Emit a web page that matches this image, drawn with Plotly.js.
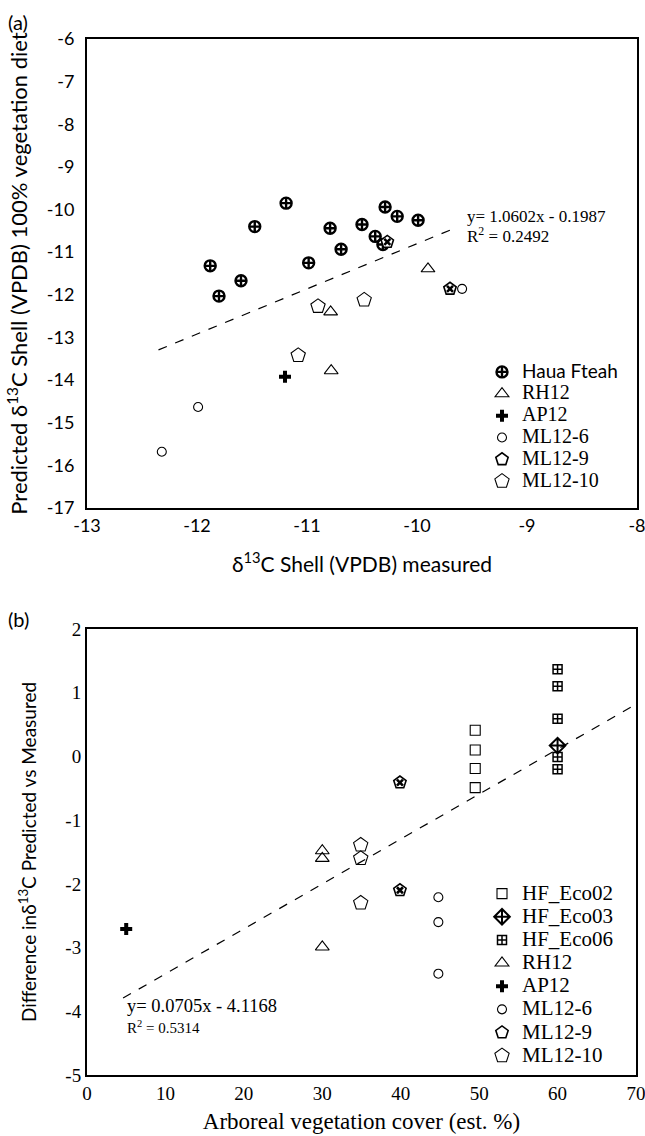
<!DOCTYPE html>
<html>
<head>
<meta charset="utf-8">
<script src="https://cdn.plot.ly/plotly-3.0.1.min.js"></script>
<style>html,body{margin:0;padding:0;background:#fff}#chart{width:645px;height:1136px}</style>
</head>
<body>
<div id="chart"></div>
<script>
// ---------- Panel (a): predicted vs measured d13C ----------
const hfX   = [-11.88, -11.60, -11.80, -11.475, -11.19, -10.985, -10.79, -10.69, -10.50, -10.38, -10.31, -10.29, -10.18, -9.99];
const hfY   = [-11.32, -11.67, -12.03, -10.40, -9.85, -11.25, -10.44, -10.93, -10.35, -10.63, -10.82, -9.94, -10.16, -10.25];
const rhX_a = [-10.785, -10.78, -9.90];
const rhY_a = [-12.40, -13.78, -11.39];
const apX_a = [-11.20];
const apY_a = [-13.92];
const ml6X_a = [-12.32, -11.99, -9.59];
const ml6Y_a = [-15.68, -14.63, -11.86];
const ml9X_a = [-10.27, -9.70];
const ml9Y_a = [-10.76, -11.86];
const ml10X_a = [-11.08, -10.90, -10.48];
const ml10Y_a = [-13.42, -12.27, -12.12];
const fitA_slope = 1.0602, fitA_int = -0.1987;
const fitA_xrange = [-12.35, -9.67];
const xTicksA = [-13, -12, -11, -10, -9, -8];
const yTicksA = [-17, -16, -15, -14, -13, -12, -11, -10, -9, -8, -7, -6];

// ---------- Panel (b): difference vs arboreal cover ----------
const eco02X = [49.5, 49.5, 49.5, 49.5];
const eco02Y = [0.41, 0.10, -0.19, -0.49];
const eco03X = [60];
const eco03Y = [0.17];
const eco06X = [60, 60, 60, 60, 60];
const eco06Y = [1.37, 1.10, 0.59, -0.01, -0.20];
const rhX_b = [30, 30, 30];
const rhY_b = [-1.48, -1.60, -2.99];
const apX_b = [5];
const apY_b = [-2.71];
const ml6X_b = [44.8, 44.8, 44.8];
const ml6Y_b = [-2.21, -2.60, -3.41];
const ml9X_b = [39.9, 39.9];
const ml9Y_b = [-0.41, -2.10];
const ml10X_b = [34.9, 34.9, 34.9];
const ml10Y_b = [-1.39, -1.60, -2.30];
const fitB_slope = 0.0705, fitB_int = -4.1168;
const fitB_xrange = [4.6, 70];
const xTicksB = [0, 10, 20, 30, 40, 50, 60, 70];
const yTicksB = [-5, -4, -3, -2, -1, 0, 1, 2];

const W = 645, H = 1136;
const serif = 'Liberation Serif, Times New Roman, serif';
const sans = 'Lato, Open Sans, sans-serif';
const K = '#000';

function mk(x, y, name, symbol, size, lw, xa, ya, leg, extra) {
  return Object.assign({
    type: 'scatter', mode: 'markers', x: x, y: y, name: name,
    xaxis: xa, yaxis: ya, legend: leg, hoverinfo: 'x+y',
    marker: {symbol: symbol, size: size, color: K, line: {color: K, width: lw}}
  }, extra || {});
}
function overlayX(x, y, xa, ya, leg, grp) {
  return {type: 'scatter', mode: 'markers', x: x, y: y, xaxis: xa, yaxis: ya, legend: leg,
    showlegend: false, legendgroup: grp, hoverinfo: 'skip',
    marker: {symbol: 'x-thin-open', size: 6, color: K, line: {color: K, width: 2.6}}};
}
function fitLine(xr, s, b, xa, ya) {
  return {type: 'scatter', mode: 'lines', x: xr, y: xr.map(v => s * v + b),
    xaxis: xa, yaxis: ya, showlegend: false, hoverinfo: 'skip',
    line: {color: K, width: 1.2, dash: 'dash'}};
}
function nm(t, px, fam) {
  return '<span style="font-size:' + px + 'px' + (fam ? ';font-family:' + fam : '') + '">' + t + '</span>';
}

const traces = [
  fitLine(fitA_xrange, fitA_slope, fitA_int, 'x', 'y'),
  mk(hfX, hfY, nm('Haua Fteah', 19, 'Lato'), 'circle-cross-open', 11, 2.4, 'x', 'y', 'legend'),
  mk(rhX_a, rhY_a, nm('RH12', 20), 'triangle-up-open', 12, 1.1, 'x', 'y', 'legend'),
  mk(apX_a, apY_a, nm('AP12', 20), 'cross', 10, 0, 'x', 'y', 'legend'),
  mk(ml6X_a, ml6Y_a, nm('ML12-6', 20), 'circle-open', 9, 1.1, 'x', 'y', 'legend'),
  mk(ml9X_a, ml9Y_a, nm('ML12-9', 20), 'pentagon', 13, 1.6, 'x', 'y', 'legend', {legendgroup: 'ml9a', marker: {symbol: 'pentagon', size: 13, color: '#fff', line: {color: K, width: 1.6}}}),
  overlayX(ml9X_a, ml9Y_a, 'x', 'y', 'legend', 'ml9a'),
  mk(ml10X_a, ml10Y_a, nm('ML12-10', 20), 'pentagon-open', 15, 1.1, 'x', 'y', 'legend'),

  fitLine(fitB_xrange, fitB_slope, fitB_int, 'x2', 'y2'),
  mk(eco02X, eco02Y, nm('HF_Eco02', 21), 'square-open', 10, 1.1, 'x2', 'y2', 'legend2'),
  mk(eco03X, eco03Y, nm('HF_Eco03', 21), 'diamond-cross-open', 12, 2, 'x2', 'y2', 'legend2'),
  mk(eco06X, eco06Y, nm('HF_Eco06', 21), 'square-cross-open', 9, 1.5, 'x2', 'y2', 'legend2'),
  mk(rhX_b, rhY_b, nm('RH12', 21), 'triangle-up-open', 12, 1.1, 'x2', 'y2', 'legend2'),
  mk(apX_b, apY_b, nm('AP12', 21), 'cross', 10, 0, 'x2', 'y2', 'legend2'),
  mk(ml6X_b, ml6Y_b, nm('ML12-6', 21), 'circle-open', 9, 1.1, 'x2', 'y2', 'legend2'),
  mk(ml9X_b, ml9Y_b, nm('ML12-9', 21), 'pentagon', 13, 1.6, 'x2', 'y2', 'legend2', {legendgroup: 'ml9b', marker: {symbol: 'pentagon', size: 13, color: '#fff', line: {color: K, width: 1.6}}}),
  overlayX(ml9X_b, ml9Y_b, 'x2', 'y2', 'legend2', 'ml9b'),
  mk(ml10X_b, ml10Y_b, nm('ML12-10', 21), 'pentagon-open', 15, 1.1, 'x2', 'y2', 'legend2')
];

const axBase = {showline: true, mirror: true, linecolor: K, linewidth: 2, showgrid: false,
  zeroline: false, ticks: '', fixedrange: true, ticklabeloverflow: 'allow'};

const layout = {
  width: W, height: H,
  margin: {l: 0, r: 0, t: 0, b: 0},
  paper_bgcolor: '#fff', plot_bgcolor: '#fff',
  showlegend: true,
  xaxis: Object.assign({}, axBase, {
    domain: [87 / W, 637 / W], anchor: 'y', range: [-13, -8],
    tickmode: 'array', tickvals: xTicksA, ticktext: xTicksA.map(String),
    tickfont: {family: sans, size: 18, color: K},
    title: {text: 'δ<sup>13</sup>C Shell (VPDB) measured', font: {family: sans, size: 21, color: K}, standoff: 23}
  }),
  yaxis: Object.assign({}, axBase, {
    domain: [1 - 508 / H, 1 - 39 / H], anchor: 'x', range: [-17, -6],
    tickmode: 'array', tickvals: yTicksA, ticktext: yTicksA.map(String),
    tickfont: {family: sans, size: 18, color: K}, ticklabelstandoff: 7,
    title: {text: 'Predicted δ<sup>13</sup>C Shell (VPDB) 100% vegetation diet', font: {family: sans, size: 22, color: K}, standoff: 13}
  }),
  xaxis2: Object.assign({}, axBase, {
    domain: [87 / W, 636 / W], anchor: 'y2', range: [0, 70],
    tickmode: 'array', tickvals: xTicksB, ticktext: xTicksB.map(String),
    tickfont: {family: serif, size: 19, color: K},
    title: {text: 'Arboreal vegetation cover (est. %)', font: {family: serif, size: 23, color: K}, standoff: 10}
  }),
  yaxis2: Object.assign({}, axBase, {
    domain: [1 - 1075 / H, 1 - 629 / H], anchor: 'x2', range: [-5, 2],
    tickmode: 'array', tickvals: yTicksB, ticktext: yTicksB.map(String),
    tickfont: {family: serif, size: 19, color: K},
    title: {text: 'Difference inδ<sup>13</sup>C Predicted vs Measured', font: {family: sans, size: 19, color: K}, standoff: 24}
  }),
  legend: {x: 482 / W, xanchor: 'left', y: 1 - 356 / H, yanchor: 'top',
    font: {family: serif, size: 14.5, color: K}, bgcolor: 'rgba(0,0,0,0)', tracegroupgap: 0},
  legend2: {x: 482 / W, xanchor: 'left', y: 1 - 877 / H, yanchor: 'top',
    font: {family: serif, size: 15.5, color: K}, bgcolor: 'rgba(0,0,0,0)', tracegroupgap: 0},
  annotations: [
    {xref: 'paper', yref: 'paper', x: 18 / W, y: 1 - 22 / H, text: '(a)', showarrow: false,
      xanchor: 'center', yanchor: 'middle', font: {family: sans, size: 20, color: K}},
    {xref: 'paper', yref: 'paper', x: 18 / W, y: 1 - 619 / H, text: '(b)', showarrow: false,
      xanchor: 'center', yanchor: 'middle', font: {family: sans, size: 20, color: K}},
    {xref: 'x', yref: 'y', x: -9.56, y: -10.17, text: 'y= 1.0602x - 0.1987', showarrow: false,
      xanchor: 'left', yanchor: 'middle', font: {family: serif, size: 17, color: K}},
    {xref: 'x', yref: 'y', x: -9.56, y: -10.60, text: 'R<sup>2</sup> = 0.2492', showarrow: false,
      xanchor: 'left', yanchor: 'middle', font: {family: serif, size: 17, color: K}},
    {xref: 'x2', yref: 'y2', x: 4.8, y: -3.92, text: 'y= 0.0705x - 4.1168', showarrow: false,
      xanchor: 'left', yanchor: 'middle', font: {family: serif, size: 18.5, color: K}},
    {xref: 'x2', yref: 'y2', x: 4.8, y: -4.25, text: 'R<sup>2</sup> = 0.5314', showarrow: false,
      xanchor: 'left', yanchor: 'middle', font: {family: serif, size: 15, color: K}}
  ]
};

Plotly.newPlot('chart', traces, layout, {staticPlot: true, displayModeBar: false});
</script>
</body>
</html>
